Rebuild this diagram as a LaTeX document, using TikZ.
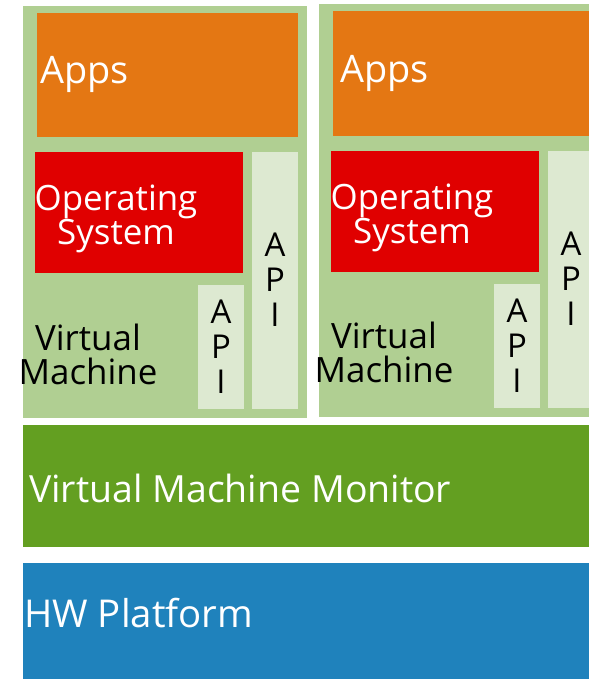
\documentclass[tikz,border=0pt]{standalone}
\usepackage{fontspec}
\setmainfont{Open Sans}
\definecolor{vmgreen}{RGB}{176,207,146}
\definecolor{appsorange}{RGB}{228,119,19}
\definecolor{osred}{RGB}{224,0,0}
\definecolor{apigreen}{RGB}{221,233,209}
\definecolor{vmmgreen}{RGB}{99,159,33}
\definecolor{hwblue}{RGB}{31,130,188}
\tikzset{
	whitetext/.style={inner sep=0pt, text=white},
	blacktext/.style={inner sep=0pt, text=black},
}
\newcommand{\drawvm}[4]{   % name, x, y, apps text offset
	\fill[vmgreen] (#2 + 23, #3 + 6) rectangle (#2 + 307, #3 + 418);
	\fill[appsorange] (#2 + 37, #3 + 13) rectangle (#2 + 298, #3 + 137);
	\fill[osred] (#2 + 35, #3 + 152) rectangle (#2 + 243, #3 + 273);
	\fill[apigreen] (#2 + 252, #3 + 152) rectangle (#2 + 298, #3 + 409);
	\fill[apigreen] (#2 + 198, #3 + 285) rectangle (#2 + 244, #3 + 409);

	\node[whitetext, anchor=base west, font=\fontsize{38}{38}\selectfont] (apps#1) at (#2 + #4 + 40, #3 + 84) {Apps};
	\node[whitetext, align=center, font=\fontsize{35}{34}\selectfont] (os#1) at (#2 + 116, #3 + 219) {Operating\\System};
	\node[blacktext, align=center, font=\fontsize{35}{34}\selectfont] (vm#1) at (#2 + 88, #3 + 354) {Virtual\\Machine};
	\node[blacktext, align=center, font=\fontsize{33}{35}\selectfont] (apihigh#1) at (#2 + 275, #3 + 280) {A\\P\\I};
	\node[blacktext, align=center, font=\fontsize{33}{35}\selectfont] (apilow#1) at (#2 + 221, #3 + 347) {A\\P\\I};
}

\begin{document}
\begin{tikzpicture}[x=1bp, y=-1bp]
\useasboundingbox (0, 0) rectangle (589, 679);

% two guests
\begin{scope}
\clip (0, 0) rectangle (589, 679);
\drawvm{L}{0}{0}{0};
\drawvm{R}{296}{-1.5}{4};
\end{scope}

% monitor and hardware
\fill[vmmgreen] (23, 425) rectangle (589, 547);
\node[whitetext, anchor=base west, font=\fontsize{37.6}{38}\selectfont] (vmm) at (29, 502) {Virtual Machine Monitor};

\fill[hwblue] (23, 563) rectangle (589, 679);
\node[whitetext, anchor=base west, font=\fontsize{38.5}{38}\selectfont] (hw) at (24, 627) {HW Platform};

\end{tikzpicture}
\end{document}
